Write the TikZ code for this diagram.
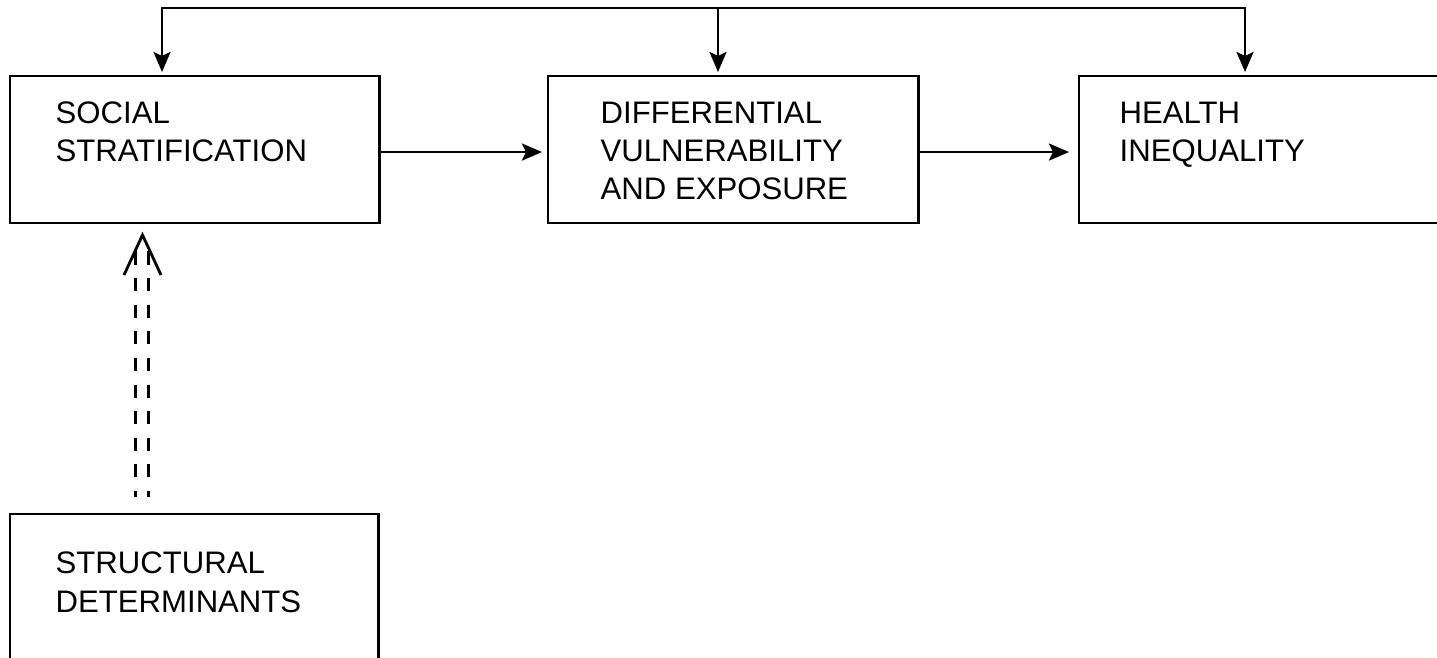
\documentclass[tikz,border=0pt]{standalone}
\usepackage{fontspec}
\setmainfont{Liberation Sans}
\usetikzlibrary{arrows.meta}
\begin{document}
\begin{tikzpicture}[x=0.01cm,y=-0.01cm,
  box/.style={draw, line width=0.8pt, rectangle, inner sep=0pt, outer sep=0pt, anchor=north west},
  lbl/.style={font=\fontsize{8.85pt}{10.9pt}\selectfont, align=left, inner sep=0pt, anchor=base west},
  flow/.style={line width=0.75pt, -{Stealth[length=0.2cm,width=0.17cm,inset=0.04cm]}},
  dbl/.style={line width=0.7pt, dash pattern=on 0.13cm off 0.136cm},
  openhead/.style={line width=0.8pt, line join=miter},
]
\useasboundingbox (0,0) rectangle (1437,658);
\clip (0,0) rectangle (1437,658);

% boxes
\node[box, minimum width=3.69cm, minimum height=1.47cm] (ss) at (10,76) {};
\node[box, minimum width=3.70cm, minimum height=1.47cm] (dv) at (548,76) {};
\node[box, minimum width=4.00cm, minimum height=1.47cm] (hi) at (1079,76) {};
\node[box, minimum width=3.68cm, minimum height=1.70cm] (sd) at (10,514) {};

% labels (placed at the baseline of their last line)
\node[lbl] (ssl) at (55,162) {SOCIAL\\STRATIFICATION};
\node[lbl] (dvl) at (600,200) {DIFFERENTIAL\\VULNERABILITY\\AND EXPOSURE};
\node[lbl] (hil) at (1119,162) {HEALTH\\INEQUALITY};
\node[lbl] (sdl) at (55,612) {STRUCTURAL\\DETERMINANTS};

% horizontal flow
\draw[flow, shorten >=0.06cm] ([yshift=-0.025cm]ss.east) -- ([yshift=-0.025cm]dv.west);
\draw[flow, shorten >=0.10cm] ([yshift=-0.025cm]dv.east) -- ([yshift=-0.025cm]hi.west);

% feedback line along the top
\coordinate (tl) at (162,8);
\coordinate (tm) at (718,8);
\coordinate (tr) at (1245,8);
\draw[flow, shorten >=0.04cm, line join=miter] (tr) -- (tl) -- (tl |- ss.north);
\draw[flow, shorten >=0.04cm, line join=miter] (tl) -- (tr) -- (tr |- hi.north);
\draw[flow, shorten >=0.04cm] (tm) -- (tm |- dv.north);

% dashed double arrow from structural determinants
\coordinate (da1) at (135.5,251.5);
\coordinate (db1) at (135.5,497);
\coordinate (da2) at (148.5,251.5);
\coordinate (db2) at (148.5,497);
\draw[dbl] (da1) -- (db1);
\draw[dbl] (da2) -- (db2);
\coordinate (hl) at (124,275);
\coordinate (hp) at (142.5,235);
\coordinate (hr) at (161,275);
\draw[openhead] (hl) -- (hp) -- (hr);
\end{tikzpicture}
\end{document}
